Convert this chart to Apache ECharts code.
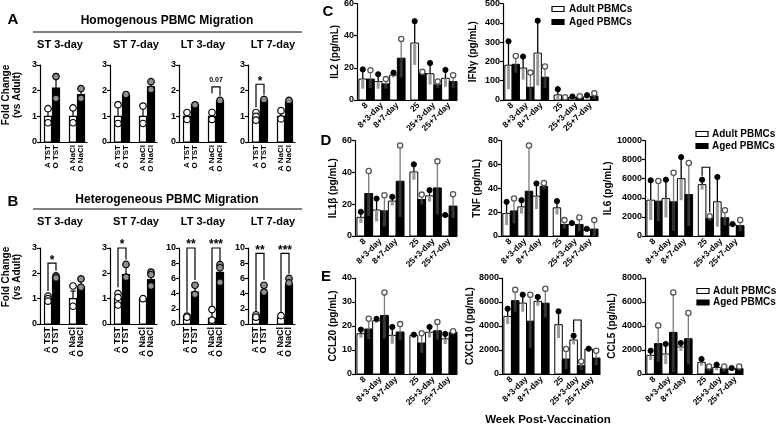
<!DOCTYPE html>
<html><head><meta charset="utf-8">
<script src="https://cdn.jsdelivr.net/npm/echarts@6/dist/echarts.min.js"></script>
<style>html,body{margin:0;padding:0;background:#fff}#c{width:778px;height:427px}</style>
</head><body><div id="c"></div>
<script>
const FF = 'Liberation Sans';

// ---------------- Panels A & B : fold change vs adult ----------------
const abLabels = ['A TST', 'O TST', 'A NaCl', 'O NaCl'];
const abTitles = ['ST 3-day', 'ST 7-day', 'LT 3-day', 'LT 7-day'];

// A: Homogenous PBMC Migration
const homST3Mean = [1.00, 2.10, 1.00, 1.85];
const homST3Err  = [1.20, 2.60, 1.25, 2.05];
const homST3Pts  = [[1.30, 0.75], [2.55, 1.70], [1.33, 0.75], [2.08, 1.70]];
const homST7Mean = [1.00, 1.82, 1.00, 2.15];
const homST7Err  = [1.55, 1.88, 1.45, 2.35];
const homST7Pts  = [[1.45, 0.72], [1.85], [1.40, 0.72], [2.35, 2.05]];
const homLT3Mean = [1.00, 1.45, 1.00, 1.60];
const homLT3Err  = [1.12, 1.47, 1.12, 1.62];
const homLT3Pts  = [[1.15, 0.88], [1.45], [1.15, 0.88], [1.62]];
const homLT7Mean = [1.00, 1.65, 1.00, 1.58];
const homLT7Err  = [1.15, 1.68, 1.25, 1.62];
const homLT7Pts  = [[1.15, 1.00, 0.85], [1.66], [1.22, 0.90], [1.62]];
const homSig = [[], [], [[2, 3, 2.15, 1.90, 1.80, '0.07']], [[0, 1, 2.25, 1.35, 1.85, '*']]];
const homYMax = [3, 3, 3, 3];
const homYInt = [1, 1, 1, 1];

// B: Heterogeneous PBMC Migration
const hetST3Mean = [1.00, 1.85, 1.00, 1.45];
const hetST3Err  = [1.15, 1.92, 1.30, 1.75];
const hetST3Pts  = [[1.10, 1.00, 0.90], [1.90, 1.82], [1.50, 0.70], [1.78, 1.45]];
const hetST7Mean = [1.00, 1.95, 1.00, 1.75];
const hetST7Err  = [1.20, 2.35, 1.02, 2.10];
const hetST7Pts  = [[1.20, 1.05, 0.75], [2.35, 1.85], [1.00], [2.05, 1.95, 1.50]];
const hetLT3Mean = [1.00, 4.20, 0.75, 6.80];
const hetLT3Err  = [1.10, 5.00, 1.80, 7.80];
const hetLT3Pts  = [[1.05, 0.90], [5.10, 3.90], [1.90, 0.50], [7.80, 7.40, 5.50]];
const hetLT7Mean = [1.00, 4.10, 0.80, 5.20];
const hetLT7Err  = [1.20, 5.00, 1.10, 6.00];
const hetLT7Pts  = [[1.20, 0.90], [5.10, 4.20], [1.10], [6.00, 5.40]];
const hetSig = [[[0, 1, 2.40, 1.30, 2.10, '*']], [[0, 1, 3.00, 1.45, 2.55, '*']],
                [[0, 1, 10, 1.6, 5.8, '**'], [2, 3, 10, 2.3, 8.2, '***']],
                [[0, 1, 9.3, 1.6, 5.8, '**'], [2, 3, 9.3, 1.6, 6.6, '***']]];
const hetYMax = [3, 3, 10, 10];
const hetYInt = [1, 1, 2, 2];

// ---------------- Panels C, D, E : cytokines (pg/mL) ----------------
const weekCats = ['8', '8+3-day', '8+7-day', '25', '25+3-day', '25+7-day'];

const il2Adult = [13, 11.5, 15.5, 35.4, 16.3, 13.5];
const il2AdultTop = [19, 16, 17, 49, 23, 18.7];
const il2Aged = [13, 10, 26, 16.5, 9.4, 11.5];
const il2AgedTop = [18.5, 13, 38, 17.5, 11.5, 15.4];

const ifngAdult = [180, 165, 243, 26, 12, 16];
const ifngAdultTop = [304, 225, 411, 56, 18, 25];
const ifngAged = [185, 66, 118, 12, 15, 20];
const ifngAgedTop = [228, 142, 174, 14, 20, 35];

const il1bAdult = [11.7, 16.3, 21.9, 40.2, 25.2, 12.7];
const il1bAdultTop = [15.2, 23.5, 24.6, 45, 28.8, 13.2];
const il1bAged = [26.7, 15.8, 34.4, 22.9, 30.2, 18.8];
const il1bAgedTop = [40.8, 25.6, 56.9, 26, 46.9, 26.3];

const tnfAdult = [18.9, 24.4, 33.3, 23.6, 9.7, 5];
const tnfAdultTop = [28.6, 30, 44, 29.2, 10.8, 6];
const tnfAged = [21, 37.5, 41.7, 9.7, 9.7, 5.8];
const tnfAgedTop = [31.4, 75.8, 44.4, 13.3, 15.6, 13.3];

const il6Adult = [3750, 3920, 6000, 5380, 3580, 1150];
const il6AdultTop = [5830, 5900, 8260, 5900, 6180, 1250];
const il6Aged = [3650, 3580, 4340, 1840, 1910, 1080];
const il6AgedTop = [5760, 6630, 7640, 2080, 2700, 1670];

const ccl20Adult = [16.8, 22.2, 16.1, 16.1, 17.4, 14.6];
const ccl20AdultTop = [18.5, 23, 19.6, 16.4, 19.6, 16.7];
const ccl20Aged = [18.75, 24.4, 17.5, 12.9, 18, 17.4];
const ccl20AgedTop = [23, 34, 20.8, 17, 21.7, 17.8];

const cxcl10Adult = [4800, 5900, 6050, 4110, 2830, 2080];
const cxcl10AdultTop = [5440, 6610, 6420, 5220, 3190, 2110];
const cxcl10Aged = [6110, 4400, 5900, 1250, 690, 1330];
const cxcl10AgedTop = [7030, 6610, 7100, 2080, 1050, 1940];

const ccl5Adult = [1550, 1660, 2250, 970, 550, 420];
const ccl5AdultTop = [1940, 2500, 2580, 1250, 780, 500];
const ccl5Aged = [2530, 3470, 2940, 420, 420, 450];
const ccl5AgedTop = [4050, 6800, 5080, 630, 630, 630];

// significance brackets: [category index, bracket top, left leg end, right leg end]
const il6Sig = [[3, 7200, 6300, 2500]];
const cxcl10Sig = [[4, 4500, 3500, 1300]];

// ---------------- build option ----------------
const grids = [], xAxes = [], yAxes = [], series = [];
const abX = [8, 16, 33, 41];
const tickFont = {fontFamily: FF, fontWeight: 'bold', fontSize: 9, color: '#000'};
const lineBlack = {color: '#000', width: 1.2};

function yAxisCfg(k, max, interval, extra) {
  return Object.assign({
    gridIndex: k, type: 'value', min: 0, max: max, interval: interval,
    axisLine: {show: true, lineStyle: lineBlack},
    axisTick: {show: true, length: 3, lineStyle: lineBlack},
    axisLabel: Object.assign({margin: 3, formatter: v => String(v)}, tickFont),
    splitLine: {show: false}
  }, extra || {});
}

function addAB(left, top, height, ymax, yint, mean, err, pts, sig, labelSize) {
  const k = grids.length;
  grids.push({left: left, top: top, width: 47, height: height, outerBoundsMode: 'none'});
  const lblMap = {};
  abX.forEach((x, i) => { lblMap[x] = abLabels[i]; });
  xAxes.push({
    gridIndex: k, type: 'value', min: 0, max: 47, interval: 1,
    axisLine: {show: true, lineStyle: lineBlack}, axisTick: {show: false}, splitLine: {show: false},
    axisLabel: {formatter: v => lblMap[Math.round(v)] || '', rotate: 90, margin: 3,
      fontFamily: FF, fontWeight: 'bold', fontSize: labelSize, color: '#000'}
  });
  yAxes.push(yAxisCfg(k, ymax, yint));
  series.push({
    type: 'custom', xAxisIndex: k, yAxisIndex: k, silent: true, z: 2,
    encode: {x: 0, y: 1},
    data: mean.map((m, i) => [abX[i], m, err[i], i % 2]),
    renderItem: (params, api) => {
      const x = api.value(0), m = api.value(1), t = api.value(2), aged = api.value(3);
      const p0 = api.coord([x, 0]), pm = api.coord([x, m]), pt = api.coord([x, t]);
      const w = 7;
      return {type: 'group', children: [
        {type: 'line', shape: {x1: pm[0], y1: pm[1], x2: pt[0], y2: pt[1]}, style: {stroke: '#000', lineWidth: 1.2}},
        {type: 'line', shape: {x1: pt[0] - 2.5, y1: pt[1], x2: pt[0] + 2.5, y2: pt[1]}, style: {stroke: '#000', lineWidth: 1.2}},
        {type: 'rect', shape: {x: p0[0] - w / 2, y: pm[1], width: w, height: p0[1] - pm[1]},
          style: {fill: aged ? '#000' : '#fff', stroke: '#000', lineWidth: 1.2}}
      ]};
    }
  });
  [0, 1].forEach(g => {
    const d = [];
    pts.forEach((arr, i) => { if (i % 2 === g) arr.forEach(v => d.push([abX[i], v])); });
    series.push({type: 'scatter', xAxisIndex: k, yAxisIndex: k, silent: true, z: 3,
      symbol: 'circle', symbolSize: 6.5, data: d,
      itemStyle: {color: g ? '#8f8f8f' : '#fff', borderColor: '#000', borderWidth: 1.2, opacity: 1}});
  });
  if (sig.length) {
    series.push({
      type: 'custom', xAxisIndex: k, yAxisIndex: k, silent: true, z: 4,
      encode: {x: 0, y: 2},
      data: sig.map(s => [abX[s[0]], abX[s[1]], s[2], s[3], s[4]]),
      renderItem: (params, api) => {
        const s = sig[params.dataIndex];
        const a = api.coord([api.value(0), api.value(3)]), b = api.coord([api.value(0), api.value(2)]);
        const c = api.coord([api.value(1), api.value(2)]), d = api.coord([api.value(1), api.value(4)]);
        const small = s[5].indexOf('.') >= 0;
        return {type: 'group', children: [
          {type: 'polyline', shape: {points: [a, b, c, d]}, style: {stroke: '#000', lineWidth: 1.2, fill: 'none'}},
          {type: 'text', x: (b[0] + c[0]) / 2, y: small ? b[1] - 3 : b[1] + 3,
            style: {text: s[5], fill: '#000', font: 'bold ' + (small ? 7 : 12) + 'px ' + FF,
              align: 'center', verticalAlign: 'bottom', textAlign: 'center', textVerticalAlign: 'bottom'}}
        ]};
      }
    });
  }
}

// category centers on a 0..13 axis (pairs of bars, gap between weeks 8 and 25)
const weekX = [1.25, 3.25, 5.25, 8, 10, 12];

function addCyt(left, top, width, height, ymax, yint, name, nameGap, am, at, gm, gt, sig) {
  const k = grids.length;
  grids.push({left: left, top: top, width: width, height: height, outerBoundsMode: 'none'});
  const lblMap = {};
  weekX.forEach((x, i) => { lblMap[Math.round(x * 4)] = weekCats[i]; });
  xAxes.push({
    gridIndex: k, type: 'value', min: 0, max: 13, interval: 0.25,
    axisLine: {show: true, lineStyle: lineBlack}, axisTick: {show: false}, splitLine: {show: false},
    axisLabel: {formatter: v => lblMap[Math.round(v * 4)] || '', rotate: 45, margin: 4,
      fontFamily: FF, fontWeight: 'bold', fontSize: 8.5, color: '#000'}
  });
  yAxes.push(yAxisCfg(k, ymax, yint, {
    name: name, nameLocation: 'middle', nameRotate: 90, nameGap: nameGap,
    nameTextStyle: {fontFamily: FF, fontWeight: 'bold', fontSize: 10, color: '#000'}
  }));
  const d = [];
  weekX.forEach((c, i) => {
    d.push([c - 0.5, am[i], at[i], 0]);
    d.push([c + 0.5, gm[i], gt[i], 1]);
  });
  series.push({
    type: 'custom', xAxisIndex: k, yAxisIndex: k, silent: true, z: 2,
    encode: {x: 0, y: 1}, data: d,
    renderItem: (params, api) => {
      const x = api.value(0), m = api.value(1), t = api.value(2), aged = api.value(3);
      const bw = api.size([1, 0])[0];
      const p0 = api.coord([x, 0]), pm = api.coord([x, m]), pt = api.coord([x, t]);
      const lowY = Math.min(p0[1], pm[1] + (pm[1] - pt[1]));
      const iw = bw * 0.4;
      return {type: 'group', children: [
        {type: 'rect', shape: {x: p0[0] - bw / 2, y: pm[1], width: bw, height: p0[1] - pm[1]},
          style: {fill: aged ? '#000' : '#fff', stroke: '#000', lineWidth: 1}},
        {type: 'rect', shape: {x: p0[0] - iw / 2, y: pm[1], width: iw, height: lowY - pm[1]},
          style: {fill: aged ? '#333' : '#9a9a9a'}},
        {type: 'line', shape: {x1: pm[0], y1: pm[1], x2: pt[0], y2: pt[1]},
          style: {stroke: aged ? '#7a7a7a' : '#000', lineWidth: 1.3}},
        {type: 'circle', shape: {cx: pt[0], cy: pt[1], r: 2.6},
          style: aged ? {fill: '#fff', stroke: '#555', lineWidth: 1.3} : {fill: '#000', stroke: '#000', lineWidth: 1}}
      ]};
    }
  });
  if (sig && sig.length) {
    series.push({
      type: 'custom', xAxisIndex: k, yAxisIndex: k, silent: true, z: 4,
      encode: {x: 0, y: 2},
      data: sig.map(s => [weekX[s[0]] - 0.5, weekX[s[0]] + 0.5, s[1], s[2], s[3]]),
      renderItem: (params, api) => {
        const a = api.coord([api.value(0), api.value(3)]), b = api.coord([api.value(0), api.value(2)]);
        const c = api.coord([api.value(1), api.value(2)]), e = api.coord([api.value(1), api.value(4)]);
        return {type: 'polyline', shape: {points: [a, b, c, e]}, style: {stroke: '#000', lineWidth: 1.2, fill: 'none'}};
      }
    });
  }
}

const abLefts = [40, 110, 179, 248];
const homMeans = [homST3Mean, homST7Mean, homLT3Mean, homLT7Mean];
const homErrs = [homST3Err, homST7Err, homLT3Err, homLT7Err];
const homPts = [homST3Pts, homST7Pts, homLT3Pts, homLT7Pts];
const hetMeans = [hetST3Mean, hetST7Mean, hetLT3Mean, hetLT7Mean];
const hetErrs = [hetST3Err, hetST7Err, hetLT3Err, hetLT7Err];
const hetPts = [hetST3Pts, hetST7Pts, hetLT3Pts, hetLT7Pts];
for (let i = 0; i < 4; i++) addAB(abLefts[i], 65, 77, homYMax[i], homYInt[i], homMeans[i], homErrs[i], homPts[i], homSig[i], 8);
for (let i = 0; i < 4; i++) addAB(abLefts[i], 248, 76, hetYMax[i], hetYInt[i], hetMeans[i], hetErrs[i], hetPts[i], hetSig[i], 9);

addCyt(357, 3.5, 100, 96.5, 60, 20, 'IL2 (pg/mL)', 14, il2Adult, il2AdultTop, il2Aged, il2AgedTop);
addCyt(503, 3.5, 95, 96.5, 500, 100, 'IFNγ (pg/mL)', 25, ifngAdult, ifngAdultTop, ifngAged, ifngAgedTop);
addCyt(355, 140.5, 102, 95.5, 60, 20, 'IL1β (pg/mL)', 14, il1bAdult, il1bAdultTop, il1bAged, il1bAgedTop);
addCyt(501, 140.5, 97, 95.5, 80, 20, 'TNF (pg/mL)', 19, tnfAdult, tnfAdultTop, tnfAged, tnfAgedTop);
addCyt(645, 140.5, 99, 95.5, 10000, 2000, 'IL6 (pg/mL)', 21, il6Adult, il6AdultTop, il6Aged, il6AgedTop, il6Sig);
addCyt(355, 278, 102, 96, 40, 10, 'CCL20 (pg/mL)', 13, ccl20Adult, ccl20AdultTop, ccl20Aged, ccl20AgedTop);
addCyt(502, 278, 98, 96, 8000, 2000, 'CXCL10 (pg/mL)', 25, cxcl10Adult, cxcl10AdultTop, cxcl10Aged, cxcl10AgedTop, cxcl10Sig);
addCyt(645, 278, 98, 96, 8000, 2000, 'CCL5 (pg/mL)', 28, ccl5Adult, ccl5AdultTop, ccl5Aged, ccl5AgedTop);

// ---------------- graphic text / decorations ----------------
function txt(x, y, text, size, align, rot) {
  return {type: 'text', x: x, y: y, rotation: rot || 0, silent: true,
    style: {text: text, fill: '#000', font: 'bold ' + size + 'px ' + FF,
      align: align || 'center', verticalAlign: 'middle', textAlign: align || 'center', textVerticalAlign: 'middle', lineHeight: size + 1}};
}
function hline(x1, x2, y) {
  return {type: 'line', silent: true, shape: {x1: x1, y1: y, x2: x2, y2: y}, style: {stroke: '#000', lineWidth: 1}};
}
function legendBox(x, y, aged) {
  return {type: 'rect', silent: true, shape: {x: x, y: y, width: 12, height: 5},
    style: {fill: aged ? '#000' : '#fff', stroke: '#000', lineWidth: 1.2}};
}
const subX = [60, 136, 203, 273];
const graphics = [
  txt(13, 20, 'A', 15), txt(167, 21, 'Homogenous PBMC Migration', 12), hline(33, 302, 32),
  txt(13, 202, 'B', 15), txt(167, 200, 'Heterogeneous PBMC Migration', 12), hline(33, 302, 209),
  txt(12, 95, 'Fold Change\n(vs Adult)', 10, 'center', Math.PI / 2),
  txt(12, 277, 'Fold Change\n(vs Adult)', 10, 'center', Math.PI / 2),
  txt(328, 12, 'C', 15), txt(326, 141, 'D', 15), txt(326, 277, 'E', 15),
  legendBox(552, 6.5, 0), txt(569, 9, 'Adult PBMCs', 10, 'left'),
  legendBox(552, 19.5, 1), txt(569, 22, 'Aged PBMCs', 10, 'left'),
  legendBox(696, 131.5, 0), txt(712, 134, 'Adult PBMCs', 10, 'left'),
  legendBox(696, 143.5, 1), txt(712, 146, 'Aged PBMCs', 10, 'left'),
  legendBox(697, 288.5, 0), txt(713, 291, 'Adult PBMCs', 10, 'left'),
  legendBox(697, 300, 1), txt(713, 302.5, 'Aged PBMCs', 10, 'left'),
  txt(548, 420, 'Week Post-Vaccination', 11.5)
];
abTitles.forEach((t, i) => { graphics.push(txt(subX[i], 45, t, 11)); graphics.push(txt(subX[i], 222, t, 11)); });

const chart = echarts.init(document.getElementById('c'), null, {renderer: 'canvas'});
chart.setOption({
  animation: false,
  backgroundColor: '#fff',
  grid: grids, xAxis: xAxes, yAxis: yAxes, series: series,
  graphic: {elements: graphics}
});
</script></body></html>
